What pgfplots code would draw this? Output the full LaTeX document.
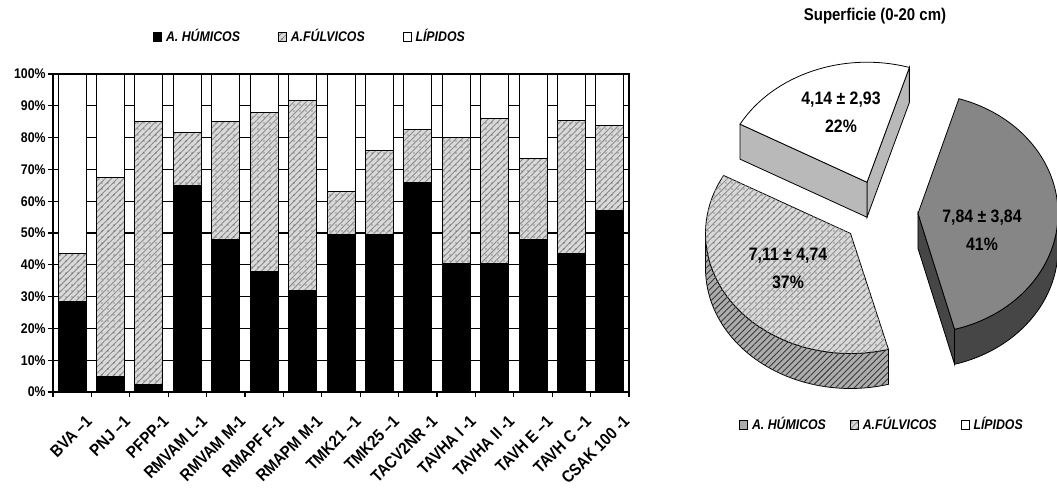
\documentclass[border=0pt]{standalone}
\usepackage{fontspec}
\setmainfont{Liberation Sans}[FakeStretch=0.88]
\usepackage{pgfplots}
\pgfplotsset{compat=1.18}
\usepackage{pgfplotstable}
\usetikzlibrary{patterns,patterns.meta}

\pgfplotstableread{
idx hum ful lip
0 28.5 15.0 56.5
1 5.0 62.5 32.5
2 2.5 82.5 15.0
3 65.0 16.5 18.5
4 48.0 37.0 15.0
5 38.0 50.0 12.0
6 32.0 59.7 8.3
7 49.5 13.5 37.0
8 49.5 26.5 24.0
9 66.0 16.5 17.5
10 40.5 39.5 20.0
11 40.5 45.5 14.0
12 48.0 25.5 26.5
13 43.5 42.0 14.5
14 57.0 26.8 16.2
}\bars

% pie values (A. humicos, A. fulvicos, lipidos)
\def\vH{7.84}
\def\vF{7.11}
\def\vL{4.14}

\tikzset{
 fulfill/.style={fill=gray!30,
   postaction={pattern={Lines[angle=45,distance=2.2pt,line width=0.45pt]}, pattern color=gray!90},
   postaction={pattern={Dots[distance=3pt,radius=0.3pt]}, pattern color=gray!50!black}},
 fulside/.style={fill=gray!65,
   postaction={pattern={Lines[angle=45,distance=2.2pt,line width=0.45pt]}, pattern color=gray!45!black}},
}
\pgfplotsset{
 boxlegend/.style={legend image code/.code={\draw[##1,line width=0.4pt] (0pt,-2.3pt) rectangle (4pt,2.3pt);}},
}

\begin{document}%
\begin{tikzpicture}
\pgfmathsetmacro{\tot}{\vH+\vF+\vL}
\pgfmathsetmacro{\aS}{73}
\pgfmathsetmacro{\aHF}{\aS-360*\vH/\tot}
\pgfmathsetmacro{\aFL}{\aHF-360*\vF/\tot}
\pgfmathsetmacro{\aLend}{\aFL+360}
\pgfmathsetmacro{\mH}{(\aS+\aHF)/2}
\pgfmathsetmacro{\mF}{(\aHF+\aFL)/2}
\pgfmathsetmacro{\mL}{(\aS+\aLend)/2}
\path (0pt,0pt) rectangle (528.5pt,244.5pt);
\begin{axis}[
  overlay,
  at={(26.5pt,48.5pt)}, anchor=south west,
  scale only axis, width=288pt, height=159pt,
  ybar stacked, bar width=14pt,
  xmin=-0.5, xmax=14.5, ymin=0, ymax=100,
  axis line style={line width=0.6pt},
  tick pos=left, tick align=outside,
  major tick length=2.5pt,
  ytick={0,10,...,100},
  yticklabels={0\%,10\%,20\%,30\%,40\%,50\%,60\%,70\%,80\%,90\%,100\%},
  yticklabel style={font=\bfseries\fontsize{7}{8}\selectfont, inner sep=1pt},
  ytick style={line width=0.6pt, black},
  ymajorgrids, major grid style={black, line width=0.6pt},
  xtick={0,...,14},
  xticklabels={BVA –1, PNJ –1, PFPP-1, RMVAM L-1, RMVAM M-1, RMAPF F-1, RMAPM M-1, TMK21 –1, TMK25 –1, TACV2NR -1, TAVHA I -1, TAVHA II -1, TAVH E –1, TAVH C –1, CSAK 100 -1},
  xtick style={draw=none},
  xticklabel style={font=\bfseries\fontsize{8.4}{9}\selectfont, rotate=45, anchor=east, inner sep=0pt, xshift=-1.5pt, yshift=-13.5pt},
  extra x ticks={-0.5,0.5,...,14.5},
  extra x tick labels={},
  extra x tick style={xtick style={draw=black, line width=0.6pt}},
  legend style={at={(0.448,1.116)}, anchor=center, draw=none, fill=none,
    legend columns=3, font=\bfseries\itshape\fontsize{7}{8}\selectfont,
    /tikz/every even column/.append style={column sep=17pt}},
  legend cell align=left,
]
\addplot[fill=black, draw=black, line width=0.5pt, boxlegend] table[x=idx,y=hum]{\bars};
\addlegendentry{A. HÚMICOS}
\addplot[fulfill, draw=black, line width=0.5pt, boxlegend] table[x=idx,y=ful]{\bars};
\addlegendentry{A.FÚLVICOS}
\addplot[fill=white, draw=black, line width=0.5pt, boxlegend] table[x=idx,y=lip]{\bars};
\addlegendentry{LÍPIDOS}
\end{axis}

\begin{axis}[
  overlay,
  at={(0pt,0pt)}, anchor=south west,
  x=0.5pt, y=0.5pt, xmin=0, xmax=1057, ymin=0, ymax=489,
  xtick=\empty, ytick=\empty,
  hide axis, clip=false,
  legend style={at={(0.8354,0.1309)}, anchor=center, draw=none, fill=none,
    legend columns=3, font=\bfseries\itshape\fontsize{7}{8}\selectfont,
    /tikz/every even column/.append style={column sep=10pt}},
  legend cell align=left,
]
\addlegendimage{boxlegend, fill=gray!65}
\addlegendentry{A. HÚMICOS}
\addlegendimage{boxlegend, fulfill}
\addlegendentry{A.FÚLVICOS}
\addlegendimage{boxlegend, fill=white}
\addlegendentry{LÍPIDOS}

\node[font=\bfseries\fontsize{8.5}{10}\selectfont] at (axis cs:875,473) {Superficie (0-20 cm)};

\coordinate (C) at (axis cs:882,276);
\coordinate (H) at ([shift={(\mH:18pt and 15pt)}]C);
\coordinate (F) at ([shift={(\mF:20pt and 16.6pt)}]C);
\coordinate (L) at ([shift={(\mL:20pt and 16.6pt)}]C);

% --- Lipidos (back) ---
\filldraw[fill=gray!55, draw=black, line width=0.4pt] (L) -- ([shift={(\aS:72.5pt and 60pt)}]L) -- ++(0pt,-17.5pt) -- ([yshift=-17.5pt]L) -- cycle;
\filldraw[fill=gray!55, draw=black, line width=0.4pt] (L) -- ([shift={(\aLend:72.5pt and 60pt)}]L) -- ++(0pt,-17.5pt) -- ([yshift=-17.5pt]L) -- cycle;
\filldraw[fill=white, draw=black, line width=0.4pt] (L) -- ([shift={(\aS:72.5pt and 60pt)}]L) arc[start angle=\aS, end angle=\aLend, x radius=72.5pt, y radius=60pt] -- cycle;

% --- Acidos fulvicos ---
\filldraw[fulside, draw=black, line width=0.4pt] ([shift={(-180:72.5pt and 60pt)}]F) arc[start angle=-180, end angle=\aHF, x radius=72.5pt, y radius=60pt] -- ++(0pt,-17.5pt) arc[start angle=\aHF, end angle=-180, x radius=72.5pt, y radius=60pt] -- cycle;
\filldraw[fulfill, draw=black, line width=0.4pt] (F) -- ([shift={(\aFL:72.5pt and 60pt)}]F) arc[start angle=\aFL, end angle=\aHF, x radius=72.5pt, y radius=60pt] -- cycle;

% --- Acidos humicos ---
\filldraw[fill=gray!55!black, draw=black, line width=0.4pt] (H) -- ([shift={(\aHF:70pt and 60pt)}]H) -- ++(0pt,-17.5pt) -- ([yshift=-17.5pt]H) -- cycle;
\filldraw[fill=gray!55!black, draw=black, line width=0.4pt] ([shift={(\aHF:70pt and 60pt)}]H) arc[start angle=\aHF, end angle=0, x radius=70pt, y radius=60pt] -- ++(0pt,-17.5pt) arc[start angle=0, end angle=\aHF, x radius=70pt, y radius=60pt] -- cycle;
\filldraw[fill=gray!95, draw=black, line width=0.4pt] (H) -- ([shift={(\aHF:70pt and 60pt)}]H) arc[start angle=\aHF, end angle=\aS, x radius=70pt, y radius=60pt] -- cycle;

\node[font=\bfseries\fontsize{9}{14}\selectfont, align=center] at (axis cs:841,377) {4,14 ± 2,93\\22\%};
\node[font=\bfseries\fontsize{9}{14}\selectfont, align=center] at (axis cs:982,259) {7,84 ± 3,84\\41\%};
\node[font=\bfseries\fontsize{9}{14}\selectfont, align=center] at (axis cs:788,221) {7,11 ± 4,74\\37\%};
\end{axis}
\end{tikzpicture}%
\end{document}
